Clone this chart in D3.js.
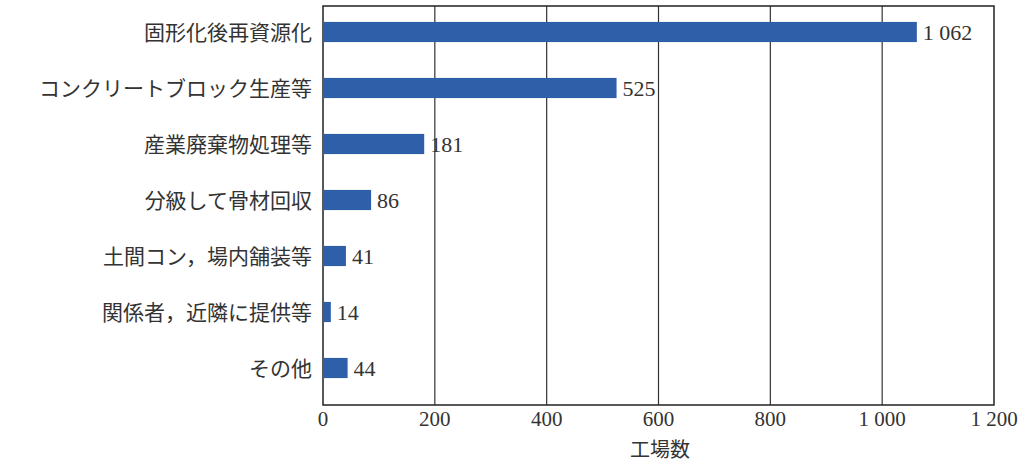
<!DOCTYPE html>
<html><head><meta charset="utf-8">
<script src="https://cdn.jsdelivr.net/npm/d3@7"></script>
<style>body{margin:0;background:#fff}</style></head>
<body><svg id="c" width="1025" height="465"></svg>
<script>
const categories=["固形化後再資源化","コンクリートブロック生産等","産業廃棄物処理等","分級して骨材回収","土間コン，場内舗装等","関係者，近隣に提供等","その他"];
const values=[1062,525,181,86,41,14,44];
const ticks=[0,200,400,600,800,1000,1200];
const tickLabels=["0","200","400","600","800","1 000","1 200"];
const svg=d3.select("#c");
const x=d3.scaleLinear().domain([0,1200]).range([323,994]);
const y=d3.scaleBand().domain(categories).range([4,396]).paddingInner(0.64).paddingOuter(0.32);
const font="'Noto Sans CJK JP'";
svg.append("g").selectAll("line").data(ticks.slice(1,-1)).join("line")
 .attr("x1",d=>x(d)).attr("x2",d=>x(d)).attr("y1",6).attr("y2",405).attr("stroke","#333").attr("stroke-width",1.2);
svg.append("rect").attr("x",x(0)).attr("y",6).attr("width",x(1200)-x(0)).attr("height",399).attr("fill","none").attr("stroke","#222").attr("stroke-width",1.5);
svg.append("g").selectAll("rect").data(values).join("rect")
 .attr("x",x(0)).attr("y",(d,i)=>y(categories[i])).attr("width",d=>x(d)-x(0)).attr("height",y.bandwidth()).attr("fill","#2f5fa8");
const fmt=v=>v>=1000?Math.floor(v/1000)+" "+String(v%1000).padStart(3,"0"):String(v);
svg.append("g").selectAll("text").data(values).join("text")
 .attr("x",d=>x(d)+6).attr("y",(d,i)=>y(categories[i])+y.bandwidth()/2).attr("dy","0.36em")
 .attr("font-family","'Liberation Serif'").attr("font-size",22).attr("fill","#333").text(fmt);
svg.append("g").selectAll("text").data(categories).join("text")
 .attr("x",312).attr("y",d=>y(d)+y.bandwidth()/2).attr("dy","0.36em").attr("text-anchor","end")
 .attr("font-family",font).attr("font-size",21).attr("fill","#333").text(d=>d);
svg.append("g").selectAll("text").data(ticks).join("text")
 .attr("x",d=>x(d)).attr("y",426).attr("text-anchor","middle")
 .attr("font-family","'Liberation Serif'").attr("font-size",21).attr("fill","#333").text((d,i)=>tickLabels[i]);
svg.append("text").attr("x",660).attr("y",457).attr("text-anchor","middle").attr("font-family",font).attr("font-size",20).attr("fill","#333").text("工場数");
</script></body></html>
